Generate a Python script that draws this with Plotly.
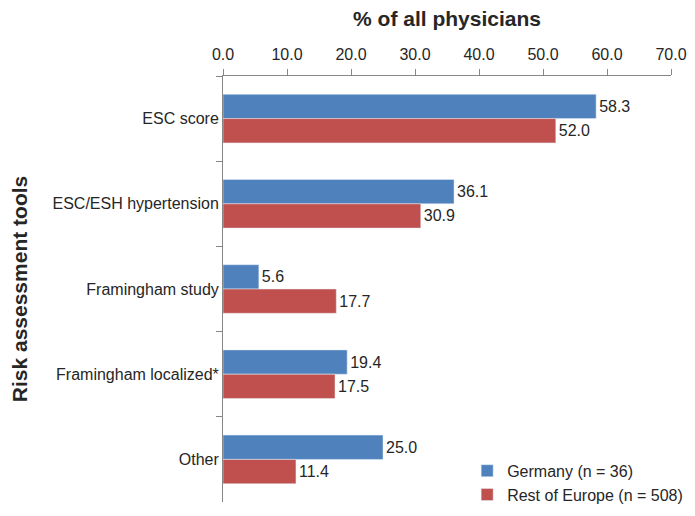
import plotly.graph_objects as go

categories = ["ESC score", "ESC/ESH hypertension", "Framingham study", "Framingham localized*", "Other"]
germany = [58.3, 36.1, 5.6, 19.4, 25.0]
rest_europe = [52.0, 30.9, 17.7, 17.5, 11.4]
x_ticks = [0, 10, 20, 30, 40, 50, 60, 70]
x_tick_labels = ["0.0", "10.0", "20.0", "30.0", "40.0", "50.0", "60.0", "70.0"]

FONT = "Liberation Sans, Arial, sans-serif"
TXT = "#262626"

fig = go.Figure()
fig.add_trace(go.Bar(
    y=categories, x=germany, orientation="h", name="Germany (n = 36)",
    marker=dict(color="#4F81BD"),
    text=[f"{v:.1f}" for v in germany], textposition="outside",
    textfont=dict(family=FONT, size=16, color=TXT), cliponaxis=False,
))
fig.add_trace(go.Bar(
    y=categories, x=rest_europe, orientation="h", name="Rest of Europe (n = 508)",
    marker=dict(color="#C0504D"),
    text=[f"{v:.1f}" for v in rest_europe], textposition="outside",
    textfont=dict(family=FONT, size=16, color=TXT), cliponaxis=False,
))

# the page body adds an 8px offset; margins compensate for it
fig.update_layout(
    width=695, height=516,
    margin=dict(l=215, r=32, t=68, b=16),
    paper_bgcolor="white", plot_bgcolor="white",
    barmode="group", bargap=0.43, bargroupgap=0,
    font=dict(family=FONT, size=16, color=TXT),
    showlegend=True,
    title=dict(text="<b>% of all physicians</b>", x=0.5, xref="paper", xanchor="center",
               y=1 - 11 / 516, yref="container", yanchor="middle",
               font=dict(family=FONT, size=21, color=TXT)),
    legend=dict(x=0.545, y=-0.023, xanchor="left", yanchor="bottom",
                font=dict(family=FONT, size=16, color=TXT),
                bgcolor="rgba(0,0,0,0)", traceorder="normal",
                itemwidth=30),
    xaxis=dict(
        side="top", range=[0, 70], tickvals=x_ticks, ticktext=x_tick_labels,
        showgrid=False, zeroline=False, showline=True, linecolor="#868686",
        ticks="outside", ticklen=6, tickcolor="#868686", automargin=False,
        ticklabelstandoff=3,
        tickfont=dict(family=FONT, size=16, color=TXT),
    ),
    yaxis=dict(
        autorange="reversed", showgrid=False, showline=True, linecolor="#868686",
        ticks="outside", ticklen=6, tickcolor="#868686", tickson="boundaries",
        automargin=False,
        tickfont=dict(family=FONT, size=16, color=TXT),
        title=dict(text="<b>Risk assessment tools</b>",
                   font=dict(family=FONT, size=21, color=TXT), standoff=42),
    ),
)

fig.write_html("out.html")
